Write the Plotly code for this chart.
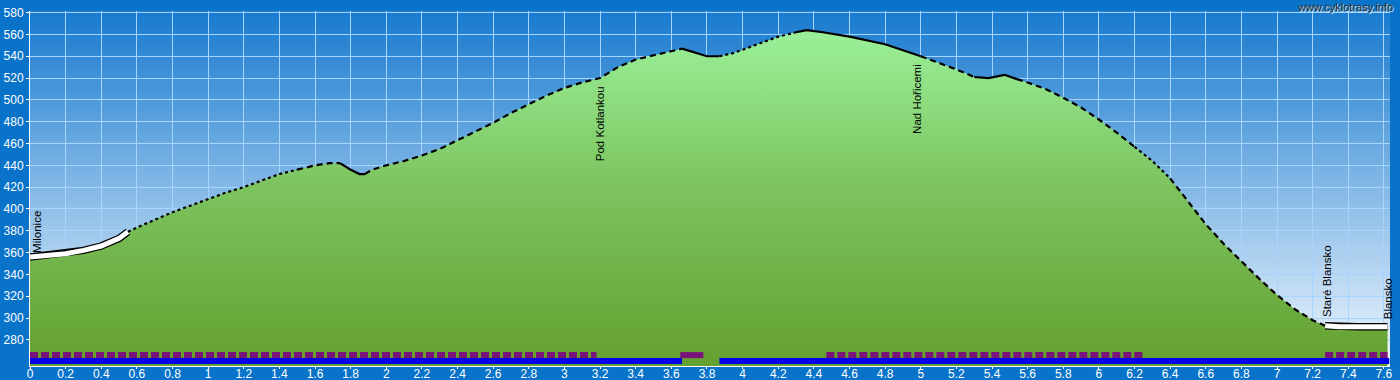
import plotly.graph_objects as go

# ---- data ----
dist = [0.0, 0.1, 0.2, 0.3, 0.4, 0.5, 0.55, 0.6, 0.7, 0.8, 0.9, 1.0, 1.1, 1.2, 1.3, 1.4,
        1.5, 1.6, 1.68, 1.74, 1.8, 1.85, 1.88, 1.92, 2.0, 2.1, 2.2, 2.3, 2.4, 2.5, 2.6,
        2.7, 2.8, 2.9, 3.0, 3.1, 3.2, 3.3, 3.4, 3.5, 3.6, 3.66, 3.72, 3.8, 3.87, 3.95,
        4.0, 4.1, 4.2, 4.3, 4.36, 4.45, 4.6, 4.8, 5.0, 5.1, 5.2, 5.3, 5.38, 5.47, 5.54,
        5.6, 5.7, 5.8, 5.9, 6.0, 6.1, 6.2, 6.3, 6.4, 6.5, 6.6, 6.7, 6.8, 6.9, 7.0, 7.1,
        7.2, 7.27, 7.35, 7.45, 7.55, 7.62]
elev = [356, 357.5, 359, 362, 366, 373, 379, 383, 390, 397, 403, 409, 415, 420, 426, 432,
        436, 440, 442, 442, 436, 432, 432, 436, 440, 444, 449, 455, 463, 471, 479,
        488, 496, 504, 511, 516, 520, 530, 537, 541, 545, 547, 544, 540, 540, 543,
        546, 552, 558, 562, 564, 562, 558, 551, 540, 534, 528, 521, 520, 523, 519,
        516, 510, 502, 493, 482, 470, 457, 444, 428, 407, 386, 368, 352, 336, 321, 308,
        298, 293, 292, 292, 292, 292]

# line style segments along the profile (start km, end km, style)
line_segments = [(0.0, 0.55, "white"), (0.55, 1.5, "dot"), (1.5, 1.74, "dash"),
                 (1.74, 1.88, "solid"), (1.88, 3.66, "dash"), (3.66, 3.87, "solid"),
                 (3.87, 4.3, "dot"), (4.3, 5.0, "solid"), (5.0, 5.3, "dash"),
                 (5.3, 5.54, "solid"), (5.54, 6.2, "dash"), (6.2, 6.4, "dot"),
                 (6.4, 7.27, "dash"), (7.27, 7.62, "white")]

# waypoint labels
place_names = ["Milonice", "Pod Kotlankou", "Nad Hořicemi", "Staré Blansko", "Blansko"]
place_km = [0.04, 3.2, 4.98, 7.28, 7.62]
place_elev = [358, 514, 535, 299, 297]
place_side = ["bottom", "top", "top", "bottom", "bottom"]

# surface bars at the bottom
purple_dot_segments = [(0.0, 3.18), (4.47, 6.25), (7.27, 7.62)]
purple_solid_segments = [(3.65, 3.78)]
blue_segments = [(0.0, 3.66), (3.87, 7.63)]

x_ticks = [round(i * 0.2, 1) for i in range(39)]
x_tick_labels = [("%g" % v) for v in x_ticks]
y_ticks = list(range(280, 581, 20))

X_RANGE = [0, 7.634]
Y_RANGE = [256, 581.5]

fig = go.Figure()

# plot-area background gradient (shapes below the grid)
def lerp(c1, c2, t):
    return "rgb(%d,%d,%d)" % tuple(round(a + (b - a) * t) for a, b in zip(c1, c2))

top_c = (24, 122, 207)
bot_c = (240, 247, 253)
N = 71
for i in range(N):
    y0 = i / N
    y1 = (i + 1) / N + 0.002
    fig.add_shape(type="rect", xref="paper", yref="paper", x0=0, x1=1, y0=y0, y1=y1,
                  fillcolor=lerp(bot_c, top_c, (i + 0.5) / N), line_width=0, layer="below")

# terrain fill
fig.add_trace(go.Scatter(
    x=dist, y=elev, mode="lines", line=dict(width=0, color="rgba(0,0,0,0)"),
    fill="tozeroy",
    fillgradient=dict(type="vertical", start=Y_RANGE[0], stop=Y_RANGE[1],
                      colorscale=[[0, "#64A030"], [0.5, "#7CC35E"], [1, "#9EF6A0"]]),
    hoverinfo="skip", showlegend=False))

# profile line segments
for (a, b, style) in line_segments:
    xs = [d for d in dist if a - 1e-9 <= d <= b + 1e-9]
    ys = [e for d, e in zip(dist, elev) if a - 1e-9 <= d <= b + 1e-9]
    if style == "white":
        fig.add_trace(go.Scatter(x=xs, y=ys, mode="lines",
                                 line=dict(color="black", width=7.5), showlegend=False, hoverinfo="skip"))
        fig.add_trace(go.Scatter(x=xs, y=ys, mode="lines",
                                 line=dict(color="white", width=5), showlegend=False, hoverinfo="skip"))
    else:
        dash = {"dot": "3px,3px", "dash": "6px,4px", "solid": "solid"}[style]
        fig.add_trace(go.Scatter(x=xs, y=ys, mode="lines",
                                 line=dict(color="black", width=2.2, dash=dash),
                                 showlegend=False, hoverinfo="skip"))

# bottom bars
def seg_xy(segs, yv):
    xs, ys = [], []
    for a, b in segs:
        xs += [a, b, None]
        ys += [yv, yv, None]
    return xs, ys

bx, by = seg_xy(blue_segments, 260.5)
fig.add_trace(go.Scatter(x=bx, y=by, mode="lines", line=dict(color="#0000E6", width=6),
                         showlegend=False, hoverinfo="skip"))
px_, py_ = seg_xy(purple_dot_segments, 266)
fig.add_trace(go.Scatter(x=px_, y=py_, mode="lines",
                         line=dict(color="#7A1479", width=6, dash="8px,3px"),
                         showlegend=False, hoverinfo="skip"))
sx, sy = seg_xy(purple_solid_segments, 266)
fig.add_trace(go.Scatter(x=sx, y=sy, mode="lines", line=dict(color="#7A1479", width=6),
                         showlegend=False, hoverinfo="skip"))

# place labels
for name, km, el, side in zip(place_names, place_km, place_elev, place_side):
    fig.add_annotation(x=km, y=el, text=name, showarrow=False, textangle=-90,
                       xanchor="center", yanchor=side,
                       font=dict(family="Liberation Sans, Arial", size=11.5, color="black"))

# watermark
fig.add_annotation(xref="paper", yref="paper", x=1.0037, y=1.011, text="www.cyklotrasy.info",
                   showarrow=False, xanchor="right", yanchor="middle",
                   font=dict(family="Liberation Sans, Arial", size=11, color="#2a2a2a",
                             shadow="1px 1px 1px #ffffff"))

axis_font = dict(family="Liberation Sans, Arial", size=12, color="white")
fig.update_layout(
    width=1400, height=380,
    margin=dict(l=30, r=10, t=11, b=14, autoexpand=False),
    paper_bgcolor="#0873C9",
    plot_bgcolor="#5DA2E0",
    xaxis=dict(range=X_RANGE, tickvals=x_ticks, ticktext=x_tick_labels, showgrid=True,
               gridcolor="#A6D6FF", gridwidth=1, zeroline=False, showline=True,
               linecolor="white", linewidth=1, ticks="outside", ticklen=2, tickcolor="white",
               tickfont=axis_font, ticklabelstandoff=-5, fixedrange=True),
    yaxis=dict(range=Y_RANGE, tickvals=y_ticks, showgrid=True, gridcolor="#A6D6FF",
               gridwidth=1, zeroline=False, showline=True, linecolor="white", linewidth=1,
               ticks="outside", ticklen=3, tickcolor="white", tickfont=axis_font,
               fixedrange=True),
    showlegend=False,
)

fig.write_html("out.html")
